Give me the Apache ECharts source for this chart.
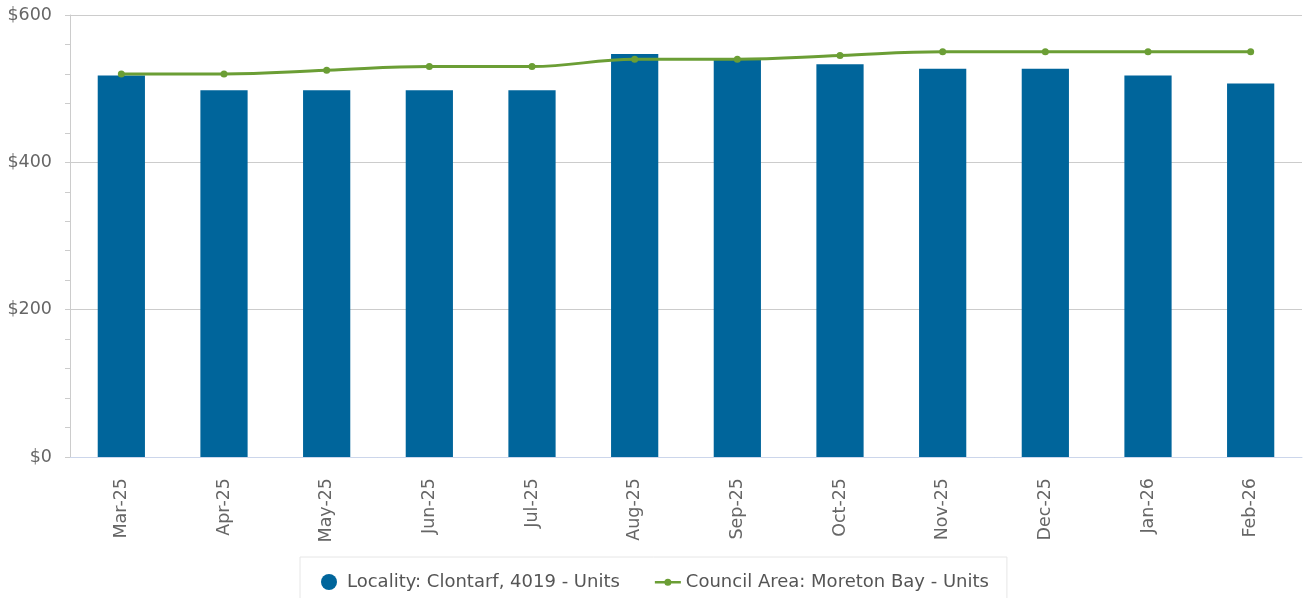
<!DOCTYPE html>
<html>
<head>
    <meta charset="utf-8">
    <title>Rent chart</title>
    <script src="https://cdn.jsdelivr.net/npm/echarts@6/dist/echarts.min.js"></script>
    <style>
        html, body { margin: 0; padding: 0; background: #fff; }
    </style>
</head>
<body>
<div id="main" style="width: 1306px; height: 598px;"></div>
<script type="text/javascript">
    // data
    var months = ['Mar-25', 'Apr-25', 'May-25', 'Jun-25', 'Jul-25', 'Aug-25',
                  'Sep-25', 'Oct-25', 'Nov-25', 'Dec-25', 'Jan-26', 'Feb-26'];
    var localityUnits = [518, 498, 498, 498, 498, 547, 540, 533, 527, 527, 518, 507];
    var councilUnits = [520, 520, 525, 530, 530, 540, 540, 545, 550, 550, 550, 550];
    var yTicks = [0, 200, 400, 600];

    var localityName = 'Locality: Clontarf, 4019 - Units';
    var councilName = 'Council Area: Moreton Bay - Units';

    var font = 'DejaVu Sans';
    // legend icon for the line: thin bar with a small dot, padded to 26x16
    var lineIcon = 'path://M0,0 L0.01,0 L0,0.01 Z M26,16 L25.99,16 L26,15.99 Z ' +
        'M0,7 L26,7 L26,9.5 L0,9.5 Z ' +
        'M9.5,8.25 A3.5,3.5 0 1,1 16.5,8.25 A3.5,3.5 0 1,1 9.5,8.25 Z';

    var myChart = echarts.init(document.getElementById('main'));

    var option = {
        animation: false,
        backgroundColor: '#fff',
        textStyle: { fontFamily: font },
        grid: {
            left: 70,
            right: 4,
            top: 15,
            bottom: 141
        },
        legend: {
            top: 557,
            left: 300,
            padding: [16, 18, 14, 21],
            borderColor: '#e6e6e6',
            borderWidth: 1,
            itemGap: 35,
            itemWidth: 26,
            itemHeight: 16,
            textStyle: {
                fontFamily: font,
                fontSize: 18,
                color: '#555'
            },
            data: [
                { name: localityName, icon: 'circle' },
                { name: councilName, icon: lineIcon }
            ]
        },
        xAxis: {
            type: 'category',
            data: months,
            axisLine: { lineStyle: { color: '#ccd6eb', width: 1 } },
            axisTick: {
                alignWithLabel: true,
                length: 10,
                lineStyle: { color: '#ccd6eb' }
            },
            axisLabel: {
                rotate: 90,
                margin: 21,
                fontSize: 17.5,
                color: '#666',
                fontFamily: font
            }
        },
        yAxis: {
            type: 'value',
            min: yTicks[0],
            max: yTicks[yTicks.length - 1],
            interval: 200,
            axisLine: { show: true, lineStyle: { color: '#ccc' } },
            axisTick: { show: true, length: 5, lineStyle: { color: '#ccc' } },
            minorTick: { show: true, splitNumber: 5, length: 5, lineStyle: { color: '#ccc' } },
            splitLine: { lineStyle: { color: '#ccc' } },
            axisLabel: {
                margin: 18,
                fontSize: 17.5,
                color: '#666',
                fontFamily: font,
                formatter: function (v) { return '$' + v; }
            }
        },
        series: [
            {
                name: localityName,
                type: 'bar',
                data: localityUnits,
                barWidth: '46%',
                itemStyle: { color: '#00659b' }
            },
            {
                name: councilName,
                type: 'line',
                data: councilUnits,
                smooth: 0.4,
                symbol: 'circle',
                symbolSize: 7,
                z: 5,
                lineStyle: { color: '#6b9e35', width: 3 },
                itemStyle: { color: '#6b9e35' }
            }
        ]
    };

    myChart.setOption(option);
</script>
</body>
</html>
